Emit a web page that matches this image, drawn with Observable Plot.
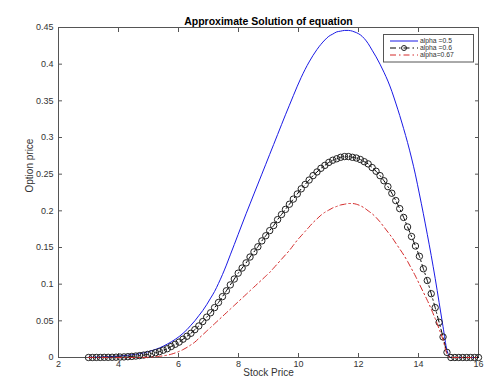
<!DOCTYPE html>
<html><head><meta charset="utf-8">
<script src="https://cdn.jsdelivr.net/npm/d3@7"></script>
<script src="https://cdn.jsdelivr.net/npm/@observablehq/plot@0.6"></script>
<style>
body{margin:0;background:#fff;}
#wrap{position:relative;width:500px;height:383px;font-family:"Liberation Sans",Arial,sans-serif;background:#fff;}
#legend{position:absolute;left:383px;top:34px;}
</style></head><body><div id="wrap"></div>
<script>
const stockPrice = [
3.000, 3.131, 3.263, 3.394, 3.525, 3.657, 3.788, 3.919, 4.051, 4.182,
4.313, 4.444, 4.576, 4.707, 4.838, 4.970, 5.101, 5.232, 5.364, 5.495,
5.626, 5.758, 5.889, 6.020, 6.152, 6.283, 6.414, 6.545, 6.677, 6.808,
6.939, 7.071, 7.202, 7.333, 7.465, 7.596, 7.727, 7.859, 7.990, 8.121,
8.253, 8.384, 8.515, 8.646, 8.778, 8.909, 9.040, 9.172, 9.303, 9.434,
9.566, 9.697, 9.828, 9.960, 10.091, 10.222, 10.354, 10.485, 10.616, 10.747,
10.879, 11.010, 11.141, 11.273, 11.404, 11.535, 11.667, 11.798, 11.929, 12.061,
12.192, 12.323, 12.455, 12.586, 12.717, 12.848, 12.980, 13.111, 13.242, 13.374,
13.505, 13.636, 13.768, 13.899, 14.030, 14.162, 14.293, 14.424, 14.556, 14.687,
14.818, 14.949, 15.081, 15.212, 15.343, 15.475, 15.606, 15.737, 15.869, 16.000];

const alpha05 = [
0.0003, 0.0004, 0.0005, 0.0007, 0.0009, 0.0011, 0.0014, 0.0017, 0.0021, 0.0026,
0.0031, 0.0037, 0.0044, 0.0052, 0.0062, 0.0076, 0.0092, 0.0110, 0.0130, 0.0155,
0.0183, 0.0213, 0.0247, 0.0285, 0.033, 0.038, 0.044, 0.050, 0.057, 0.064,
0.072, 0.081, 0.090, 0.101, 0.113, 0.126, 0.140, 0.154, 0.168, 0.182,
0.196, 0.2095, 0.223, 0.2365, 0.250, 0.2635, 0.277, 0.2905, 0.304, 0.3175,
0.331, 0.344, 0.357, 0.370, 0.382, 0.393, 0.403, 0.412, 0.420, 0.427,
0.433, 0.438, 0.441, 0.444, 0.445, 0.446, 0.446, 0.445, 0.443, 0.440,
0.435, 0.428, 0.419, 0.410, 0.400, 0.389, 0.377, 0.363, 0.347, 0.330,
0.312, 0.293, 0.272, 0.249, 0.223, 0.196, 0.168, 0.139, 0.108, 0.075,
0.042, 0.010, 0, 0, 0, 0, 0, 0, 0, 0];

const alpha06 = [
0, 0, 0.0001, 0.0001, 0.0002, 0.0002, 0.0003, 0.0004, 0.0006, 0.0008,
0.0011, 0.0015, 0.0020, 0.0026, 0.0033, 0.0042, 0.0052, 0.0065, 0.008, 0.010,
0.012, 0.015, 0.018, 0.021, 0.025, 0.029, 0.033, 0.038, 0.043, 0.049,
0.055, 0.061, 0.068, 0.075, 0.083, 0.091, 0.099, 0.107, 0.115, 0.122,
0.129, 0.137, 0.144, 0.151, 0.159, 0.166, 0.173, 0.180, 0.188, 0.195,
0.202, 0.209, 0.216, 0.223, 0.230, 0.236, 0.242, 0.248, 0.253, 0.258,
0.262, 0.266, 0.269, 0.271, 0.273, 0.274, 0.274, 0.273, 0.272, 0.270,
0.267, 0.264, 0.259, 0.254, 0.248, 0.241, 0.233, 0.224, 0.214, 0.203,
0.191, 0.178, 0.165, 0.152, 0.138, 0.121, 0.105, 0.087, 0.068, 0.048,
0.028, 0.007, 0, 0, 0, 0, 0, 0, 0, 0];

const alpha067 = [
0, 0, 0, 0, 0, 0, 0, 0, 0, 0,
0, 0, 0, 0, 0.0001, 0.0003, 0.0006, 0.0010, 0.0016, 0.0023,
0.0032, 0.0045, 0.0062, 0.0083, 0.0108, 0.0138, 0.0172, 0.021, 0.026, 0.031,
0.036, 0.041, 0.046, 0.051, 0.056, 0.061, 0.066, 0.071, 0.076, 0.081,
0.086, 0.091, 0.096, 0.101, 0.106, 0.111, 0.116, 0.122, 0.128, 0.134,
0.140, 0.146, 0.153, 0.160, 0.166, 0.172, 0.178, 0.184, 0.189, 0.194,
0.198, 0.201, 0.204, 0.206, 0.208, 0.209, 0.210, 0.210, 0.209, 0.207,
0.204, 0.200, 0.196, 0.191, 0.185, 0.178, 0.171, 0.164, 0.156, 0.148,
0.140, 0.131, 0.121, 0.111, 0.100, 0.089, 0.078, 0.066, 0.053, 0.039,
0.024, 0.005, 0, 0, 0, 0, 0, 0, 0, 0];

const xTicks = [2, 4, 6, 8, 10, 12, 14, 16];
const yTicks = [0, 0.05, 0.1, 0.15, 0.2, 0.25, 0.3, 0.35, 0.4, 0.45];
const seriesNames = ["alpha =0.5", "alpha =0.6", "alpha=0.67"];
const seriesColors = ["#1a1ae6", "#000000", "#d42a2a"];
const titleText = "Approximate Solution of equation";
const xLabel = "Stock Price";
const yLabel = "Option price";

const rows = stockPrice.map((x, i) => ({x, a05: alpha05[i], a06: alpha06[i], a067: alpha067[i]}));
const font = "'Liberation Sans', Arial, sans-serif";
const axisColor = "#555";
const dashDot = "6,3,1.5,3";

const chart = Plot.plot({
  width: 500, height: 383,
  marginLeft: 58, marginRight: 22, marginTop: 27, marginBottom: 26,
  x: {domain: [2, 16]},
  y: {domain: [0, 0.45]},
  style: {fontFamily: font, fontSize: "9px", color: "#333", background: "#fff", overflow: "visible"},
  marks: [
    Plot.frame({stroke: axisColor}),
    Plot.axisX({anchor: "bottom", ticks: xTicks, tickSize: -4, tickPadding: 7, stroke: axisColor, fill: "#333", label: null}),
    Plot.axisX({anchor: "top", ticks: xTicks, tickSize: -4, tickFormat: () => "", stroke: axisColor, label: null}),
    Plot.axisY({anchor: "left", ticks: yTicks, tickSize: -4, tickPadding: 9, tickFormat: d => String(+d.toFixed(2)), stroke: axisColor, fill: "#333", label: null}),
    Plot.axisY({anchor: "right", ticks: yTicks, tickSize: -4, tickFormat: () => "", stroke: axisColor, label: null}),
    Plot.line(rows, {x: "x", y: "a05", stroke: seriesColors[0], strokeWidth: 1, curve: "monotone-x"}),
    Plot.line(rows, {x: "x", y: "a06", stroke: seriesColors[1], strokeWidth: 1, strokeDasharray: dashDot, curve: "monotone-x"}),
    Plot.dot(rows, {x: "x", y: "a06", r: 3.2, stroke: "#222", strokeWidth: 1, fill: "none"}),
    Plot.line(rows, {x: "x", y: "a067", stroke: seriesColors[2], strokeWidth: 1, strokeDasharray: dashDot, curve: "monotone-x"}),
    Plot.text([titleText], {text: d => d, frameAnchor: "top", dy: -10, fontWeight: "bold", fontSize: 10.5, fill: "#000"}),
    Plot.text([xLabel], {text: d => d, frameAnchor: "bottom", dy: 18, fontSize: 10, fill: "#333"}),
    Plot.text([yLabel], {text: d => d, frameAnchor: "left", dx: -29, rotate: -90, fontSize: 10, fill: "#333"})
  ]
});
document.getElementById("wrap").appendChild(chart);

// legend box
const lg = d3.select("#wrap").append("svg").attr("id", "legend")
  .attr("width", 91).attr("height", 29)
  .style("font-family", font);
lg.append("rect").attr("x", 0.5).attr("y", 0.5).attr("width", 90).attr("height", 27.5)
  .attr("fill", "#fff").attr("stroke", axisColor);
seriesNames.forEach((name, i) => {
  const y = 7 + i * 7;
  const line = lg.append("line").attr("x1", 7).attr("x2", 35).attr("y1", y).attr("y2", y)
    .attr("stroke", seriesColors[i]).attr("stroke-width", 1);
  if (i > 0) line.attr("stroke-dasharray", dashDot);
  if (i === 1) lg.append("circle").attr("cx", 21).attr("cy", y).attr("r", 2.5)
    .attr("fill", "none").attr("stroke", "#222");
  lg.append("text").attr("x", 37).attr("y", y).attr("dy", "0.32em")
    .attr("font-size", 6.8).attr("fill", "#333").text(name);
});
</script>
</body></html>
